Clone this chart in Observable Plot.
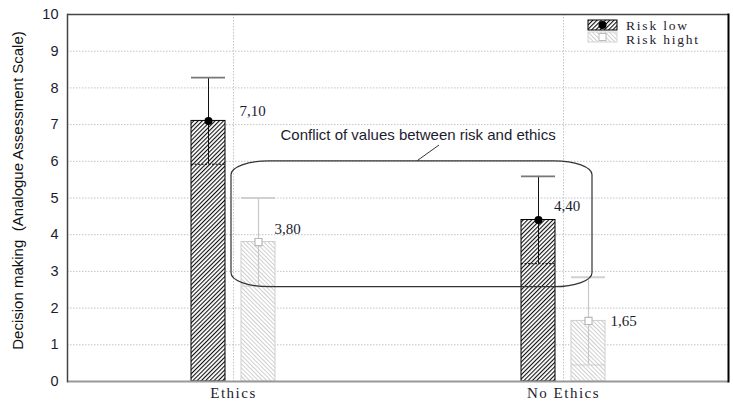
<!DOCTYPE html>
<html><head><meta charset="utf-8">
<script src="https://cdn.jsdelivr.net/npm/d3@7"></script>
<script src="https://cdn.jsdelivr.net/npm/@observablehq/plot@0.6"></script>
<style>
body{margin:0;background:#fff}
#chart{position:relative;width:733px;height:403px}
</style>
</head><body><div id="chart"></div>
<script>
// ---- data ----
const categories = ["Ethics", "No Ethics"];
const seriesNames = ["Risk low", "Risk hight"];
const riskLow = [7.10, 4.40];
const riskLowUpper = [8.28, 5.59];
const riskLowLower = [5.92, 3.21];
const riskHigh = [3.80, 1.65];
const riskHighUpper = [5.00, 2.84];
const riskHighLower = [2.60, 0.45];
const yTicks = [0, 1, 2, 3, 4, 5, 6, 7, 8, 9, 10];
const yLabel = "Decision making  (Analogue Assessment Scale)";
const annotationText = "Conflict of values between risk and ethics";
const annotationY = [2.57, 6.0];
const annotationTextY = 6.72;
const leaderY = [6.0, 6.43];

const fmt = v => d3.format(".2f")(v).replace(".", ",");
const lowData = categories.map((c, i) => ({cat: c, mean: riskLow[i], lo: riskLowLower[i], hi: riskLowUpper[i], label: fmt(riskLow[i])}));
const highData = categories.map((c, i) => ({cat: c, mean: riskHigh[i], lo: riskHighLower[i], hi: riskHighUpper[i], label: fmt(riskHigh[i])}));

// label placement offsets (style)
const lowLabelOffsets = [{dx: 6, dy: -9.5}, {dx: -9.5, dy: -14}];
const highLabelOffsets = [{dx: 41, dy: -13}, {dx: 47, dy: 0}];

const serif = "'Liberation Serif', 'Times New Roman', serif";
const sans = "'Liberation Sans', Arial, sans-serif";
const grid = {stroke: "#c4c4c4", strokeDasharray: "1.5,1.5", strokeWidth: 1};
const LOW_IN = {insetLeft: 123, insetRight: 173};
const HIGH_IN = {insetLeft: 173, insetRight: 123};

const labelMarks = [];
lowData.forEach((d, i) => labelMarks.push(Plot.text([d], {x: "cat", y: "mean", text: "label", textAnchor: "start", dx: lowLabelOffsets[i].dx, dy: lowLabelOffsets[i].dy, fontFamily: serif, fontSize: 15, fill: "#1c1c30", ariaLabel: "value-label"})));
highData.forEach((d, i) => labelMarks.push(Plot.text([d], {x: "cat", y: "mean", text: "label", textAnchor: "start", dx: highLabelOffsets[i].dx, dy: highLabelOffsets[i].dy, fontFamily: serif, fontSize: 15, fill: "#1c1c30", ariaLabel: "value-label"})));

const plot = Plot.plot({
  width: 733, height: 403,
  marginLeft: 67, marginRight: 5, marginTop: 14, marginBottom: 22,
  style: {fontFamily: sans, fontSize: "14px", color: "#1c1c30", background: "#fff", overflow: "visible"},
  x: {type: "band", domain: categories, padding: 0, label: null},
  y: {domain: [0, 10], label: null},
  marks: [
    Plot.ruleY(yTicks.filter(d => d > 0 && d < 10), grid),
    Plot.ruleX(categories, grid),
    Plot.barY(lowData, {x: "cat", y: "mean", ...LOW_IN, fill: "url(#hatchLow)", stroke: "#000", strokeWidth: 1}),
    Plot.barY(highData, {x: "cat", y: "mean", ...HIGH_IN, fill: "url(#hatchHigh)", stroke: "#cfcfcf", strokeWidth: 1}),
    // lower ends
    Plot.tickY(lowData, {x: "cat", y: "lo", ...LOW_IN, stroke: "#000", strokeDasharray: "2,1.5"}),
    Plot.tickY(highData, {x: "cat", y: "lo", ...HIGH_IN, stroke: "#cfcfcf"}),
    // whiskers
    Plot.ruleX(lowData, {x: "cat", y1: "lo", y2: "hi", dx: -25, stroke: "#111", strokeWidth: 1}),
    Plot.ruleX(highData, {x: "cat", y1: "lo", y2: "hi", dx: 25, stroke: "#c8c8c8", strokeWidth: 1.2}),
    // caps
    Plot.tickY(lowData, {x: "cat", y: "hi", ...LOW_IN, stroke: "#777", strokeWidth: 1.8}),
    Plot.tickY(highData, {x: "cat", y: "hi", ...HIGH_IN, stroke: "#d0d0d0", strokeWidth: 1.8}),
    // means
    Plot.dot(lowData, {x: "cat", y: "mean", dx: -25, r: 4, fill: "#000", stroke: "none"}),
    Plot.dot(highData, {x: "cat", y: "mean", dx: 25, r: 4, symbol: "square", fill: "#fff", stroke: "#b8b8b8", strokeWidth: 1.2}),
    ...labelMarks,
    Plot.text([annotationText], {x: () => categories[0], y: () => annotationTextY, text: d => d, textAnchor: "start", dx: 47, fontFamily: sans, fontSize: 15, fill: "#1c1c30"}),
    // frame
    Plot.ruleY([0], {stroke: "#999", strokeWidth: 2}),
    Plot.ruleY([10], {stroke: "#444", strokeWidth: 1.5}),
    Plot.frame({anchor: "left", stroke: "#444", strokeWidth: 1.5}),
    Plot.frame({anchor: "right", stroke: "#000", strokeWidth: 2}),
    Plot.axisY(yTicks, {tickSize: 0, tickPadding: 9, fontFamily: sans, fontSize: 14.5, label: null, fill: "#1c1c30"}),
    Plot.axisX({tickSize: 0, tickPadding: 6, fontFamily: serif, fontSize: 15, label: null, fill: "#1c1c30"})
  ]
});

document.getElementById("chart").appendChild(plot);
const svg = d3.select(plot);
const defs = svg.insert("defs", ":first-child");
function hatch(id, color, rot, w) {
  const p = defs.append("pattern").attr("id", id).attr("patternUnits", "userSpaceOnUse")
    .attr("width", 3).attr("height", 3).attr("patternTransform", `rotate(${rot})`);
  p.append("rect").attr("width", 3).attr("height", 3).attr("fill", "#fff");
  p.append("line").attr("x1", 0.5).attr("y1", 0).attr("x2", 0.5).attr("y2", 3).attr("stroke", color).attr("stroke-width", w);
}
hatch("hatchLow", "#111", 45, 1.2);
hatch("hatchHigh", "#cfcfcf", -45, 1);

// letter spacing for serif texts
svg.selectAll('g[aria-label="x-axis tick label"] text').style("letter-spacing", "1.5px");
svg.selectAll('g[aria-label="value-label"] text').style("letter-spacing", "1px");

const xs = plot.scale("x"), ys = plot.scale("y");
const bw = xs.bandwidth;
const cx = c => xs.apply(c) + bw / 2;

// annotation box and leader (positioned via plot scales)
svg.append("rect")
  .attr("x", cx(categories[0]) - 2)
  .attr("width", cx(categories[1]) + 29 - (cx(categories[0]) - 2))
  .attr("y", ys.apply(annotationY[1]))
  .attr("height", ys.apply(annotationY[0]) - ys.apply(annotationY[1]))
  .attr("rx", 38).attr("ry", 14)
  .attr("fill", "none").attr("stroke", "#333").attr("stroke-width", 1.2);
svg.append("line")
  .attr("x1", cx(categories[0]) + 184).attr("y1", ys.apply(leaderY[0]))
  .attr("x2", cx(categories[0]) + 206).attr("y2", ys.apply(leaderY[1]))
  .attr("stroke", "#333").attr("stroke-width", 1);

// y-axis title
svg.append("text")
  .attr("transform", `translate(19,${(ys.apply(0) + ys.apply(10)) / 2 - 7}) rotate(-90)`)
  .attr("text-anchor", "middle").attr("dominant-baseline", "middle")
  .style("white-space", "pre")
  .attr("font-family", sans).attr("font-size", 15).attr("fill", "#111")
  .text(yLabel);

// legend
const lg = svg.append("g").attr("transform", "translate(588,20)");
lg.append("rect").attr("x", 0).attr("y", 0).attr("width", 29).attr("height", 10).attr("fill", "url(#hatchLow)").attr("stroke", "#000");
lg.append("circle").attr("cx", 14.5).attr("cy", 5).attr("r", 4).attr("fill", "#000");
lg.append("rect").attr("x", 0).attr("y", 12).attr("width", 29).attr("height", 10).attr("fill", "url(#hatchHigh)").attr("stroke", "#d4d4d4");
lg.append("rect").attr("x", 11).attr("y", 13.5).attr("width", 7).attr("height", 7).attr("fill", "#fff").attr("stroke", "#bbb");
lg.selectAll("text.l").data(seriesNames).join("text")
  .attr("class", "l")
  .attr("x", 38).attr("y", (d, i) => 10 + i * 14)
  .attr("text-anchor", "start")
  .attr("font-family", serif).attr("font-size", 13.5).attr("fill", "#1c1c30")
  .style("letter-spacing", "1.8px")
  .text(d => d);
</script>
</body></html>
